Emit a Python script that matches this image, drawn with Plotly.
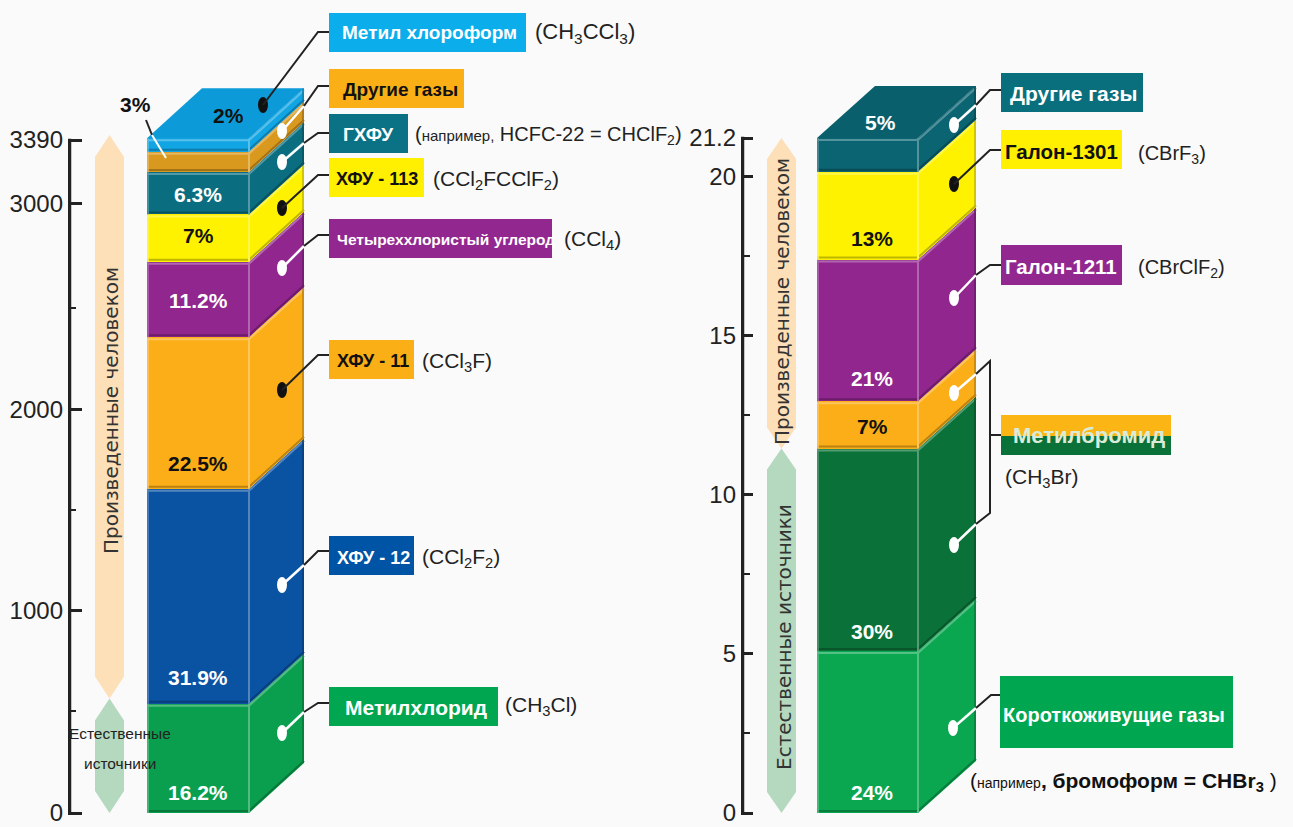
import plotly.graph_objects as go

W, H = 1293, 827
FONT = "Liberation Sans"
INK = "#222222"

# Ozone-depleting gases: share of the total, from the ground up
chlorine_gases = ["Метилхлорид", "ХФУ-12", "ХФУ-11", "Четыреххлористый углерод",
                  "ХФУ-113", "ГХФУ", "Другие газы", "Метил хлороформ"]
chlorine_pct = [16.2, 31.9, 22.5, 11.2, 7, 6.3, 3, 2]
chlorine_front = ["#0A9F4E", "#0A52A2", "#FBAE17", "#90268E", "#FFF200", "#0B6E80", "#D9981E", "#12A5E3"]
chlorine_top = "#0C9BD8"

bromine_gases = ["Короткоживущие газы", "Метилбромид (естественный)", "Метилбромид (человек)",
                 "Галон-1211", "Галон-1301", "Другие газы"]
bromine_pct = [24, 30, 7, 21, 13, 5]
bromine_front = ["#0AA650", "#0A7238", "#FBAE17", "#90268E", "#FFF200", "#0A6472"]
bromine_top = "#0A5F6C"
BROMINE_TOTAL = 21.2

# The printed chlorine scale is not linear near its top, so its ticks sit at their own heights
chlorine_tick_pos = [0, 30, 59.9, 90.4, 99.85]
chlorine_tick_text = ["0", "1000", "2000", "3000", "3390"]
chlorine_minor_pos = [15.1, 45, 75]
bromine_ticks = [0, 5, 10, 15, 20, 21.2]
bromine_tick_text = ["0", "5", "10", "15", "20", "21.2"]
bromine_minor = [2.5, 7.5, 12.5, 17.5]


def px(x):
    return x / W


def py(y):
    return 1 - y / H


def mix(color, other, t):
    a = [int(color[i:i + 2], 16) for i in (1, 3, 5)]
    b = [int(other[i:i + 2], 16) for i in (1, 3, 5)]
    return "#" + "".join(f"{round(p + (q - p) * t):02X}" for p, q in zip(a, b))


fig = go.Figure()


def polygon(xs, ys, color, xa, ya):
    fig.add_trace(go.Scatter(x=xs, y=ys, mode="lines", fill="toself", fillcolor=color,
                             line=dict(width=0), hoverinfo="skip", showlegend=False,
                             xaxis=xa, yaxis=ya))


def stroke(xs, ys, color, width, xa, ya):
    fig.add_trace(go.Scatter(x=xs, y=ys, mode="lines", line=dict(color=color, width=width),
                             hoverinfo="skip", showlegend=False, cliponaxis=False,
                             xaxis=xa, yaxis=ya))


def column(values, colors, top_color, x0, x1, x2, depth, xa, ya):
    """Stacked front bars plus the side and top faces that give the block its depth."""
    pad = depth * 0.04
    base = 0
    for v, c in zip(values, colors):
        top = base + v
        fig.add_trace(go.Bar(x=[(x0 + x1) / 2], y=[v], base=[base], width=[x1 - x0],
                             marker=dict(color=c, line=dict(width=0)), hoverinfo="skip",
                             showlegend=False, xaxis=xa, yaxis=ya))
        polygon([x1, x2, x2, x1, x1], [base, base + depth, top + depth, top, base], c, xa, ya)
        light, dark = mix(c, "#FFFFFF", 0.3), mix(c, "#000000", 0.25)
        stroke([x0, x1, x2], [top - pad, top - pad, top + depth - pad], light, 2, xa, ya)
        stroke([x0, x1, x2], [base + pad, base + pad, base + depth + pad], dark, 2, xa, ya)
        stroke([x1, x1], [base, top], light, 2, xa, ya)
        stroke([x0 + 1, x0 + 1], [base, top], light, 1.5, xa, ya)
        stroke([x2 - 1, x2 - 1], [base + depth, top + depth], dark, 1.5, xa, ya)
        base = top
    dx = x2 - x1
    polygon([x0, x1, x2, x0 + dx, x0], [base, base, base + depth, base + depth, base], top_color, xa, ya)


def band(x0, x1, lo, hi, tip, color, xa, ya):
    """Pale vertical band with pointed ends marking a source range."""
    mid = (x0 + x1) / 2
    polygon([mid, x1, x1, mid, x0, x0, mid],
            [hi, hi - tip, lo + tip, lo, lo + tip, hi - tip, hi], color, xa, ya)


# Chlorine column
CL_UNIT = 6.74
column(chlorine_pct, chlorine_front, chlorine_top, 147, 249, 304, 50 / CL_UNIT, "x", "y")
band(95, 124, chlorine_pct[0] + 0.8, sum(chlorine_pct) + 0.5, 22 / CL_UNIT, "#FDDFB8", "x", "y")
band(95, 124, 0, chlorine_pct[0] + 0.8, 22 / CL_UNIT, "#B4D9BF", "x", "y")
stroke([69.5, 69.5], [-0.2, chlorine_tick_pos[-1] + 0.2], INK, 3.5, "x", "y")

# Bromine column
BR_UNIT = 675 / BROMINE_TOTAL
bromine_ppt = [p * BROMINE_TOTAL / 100 for p in bromine_pct]
column(bromine_ppt, bromine_front, bromine_top, 817, 918, 976, 52 / BR_UNIT, "x2", "y2")
split = sum(bromine_ppt[:2])
band(767, 796, split, BROMINE_TOTAL, 21 / BR_UNIT, "#FDDFB8", "x2", "y2")
band(767, 796, 0, split, 21 / BR_UNIT, "#B4D9BF", "x2", "y2")
stroke([742.5, 742.5], [-0.04, BROMINE_TOTAL + 0.04], INK, 3.5, "x2", "y2")

annotations = []


def text(x, y, s, size=20, color=INK, family=FONT, anchor="left", angle=0):
    annotations.append(dict(x=px(x), y=py(y), xref="paper", yref="paper", text=s, showarrow=False,
                            xanchor=anchor, yanchor="middle", textangle=angle,
                            font=dict(family=family, size=size, color=color)))


shapes = []


def box(x0, y0, x1, y1, color):
    shapes.append(dict(type="rect", xref="paper", yref="paper", x0=px(x0), x1=px(x1),
                       y0=py(y0), y1=py(y1), fillcolor=color, line=dict(width=0)))


def wire(points, color=INK, width=2):
    path = "M " + " L ".join(f"{px(x):.5f},{py(y):.5f}" for x, y in points)
    shapes.append(dict(type="path", xref="paper", yref="paper", path=path,
                       line=dict(color=color, width=width)))


def dot(x, y, color):
    shapes.append(dict(type="circle", xref="paper", yref="paper", x0=px(x - 5), x1=px(x + 5),
                       y0=py(y - 8), y1=py(y + 8), fillcolor=color, line=dict(width=0)))


def callout(dot_xy, bend, elbow, end, light):
    """Leader from a face to its label: white over the block when the dot is white."""
    if light:
        dot(*dot_xy, "#FFFFFF")
        wire([dot_xy, bend], "#FFFFFF", 2.5)
        wire([bend, elbow, end])
    else:
        dot(*dot_xy, "#111111")
        wire([dot_xy, elbow, end])


# Chlorine labels
box(329, 13, 526, 52, "#0BAEEA")
text(340, 33, "<b>Метил хлороформ</b>", 19, "#FFFFFF")
text(533, 33, "(CH<sub>3</sub>CCl<sub>3</sub>)", 22)
box(329, 69, 464, 108, "#FBAF17")
text(341, 89, "<b>Другие газы</b>", 19, "#111111")
box(329, 114, 408, 153, "#0A7284")
text(341, 134, "<b>ГХФУ</b>", 19, "#FFFFFF")
text(413, 136, "(<span style='font-size:15px'>например,</span> HCFC-22 = CHClF<sub>2</sub>)", 20)
box(329, 158, 424, 197, "#FFEF00")
text(334, 179, "<b>ХФУ - 113</b>", 18, "#111111")
text(431, 180, "(CCl<sub>2</sub>FCClF<sub>2</sub>)", 21)
box(329, 219, 552, 258, "#92278F")
text(335, 240, "<b>Четыреххлористый углерод</b>", 15.5, "#FFFFFF")
text(562, 240, "(CCl<sub>4</sub>)", 21)
box(329, 340, 414, 379, "#FBAF17")
text(335, 361, "<b>ХФУ - 11</b>", 18, "#111111")
text(420, 362, "(CCl<sub>3</sub>F)", 21)
box(329, 536, 414, 575, "#0054A6")
text(335, 558, "<b>ХФУ - 12</b>", 18, "#FFFFFF")
text(420, 558, "(CCl<sub>2</sub>F<sub>2</sub>)", 21)
box(329, 687, 498, 726, "#00A650")
text(343, 707, "<b>Метилхлорид</b>", 21, "#FFFFFF")
text(503, 706, "(CH<sub>3</sub>Cl)", 21)

callout((263, 105), None, (318, 32), (329, 32), False)
callout((282, 131), (304, 106), (318, 86), (329, 86), True)
callout((282, 162), (304, 143), (318, 133), (329, 133), True)
callout((282, 208), None, (318, 175), (329, 175), False)
callout((282, 268), (304, 246), (318, 235), (329, 235), True)
callout((282, 390), None, (318, 355), (329, 355), False)
callout((282, 585), (304, 565), (318, 551), (329, 551), True)
callout((282, 733), (304, 712), (318, 703), (329, 703), True)

# Bromine labels
box(1001, 73, 1143, 112, "#0A6F7D")
text(1008, 93, "<b>Другие газы</b>", 21, "#FFFFFF")
box(1001, 130, 1122, 169, "#FFEF00")
text(1003, 151, "<b>Галон-1301</b>", 20.5, "#111111")
text(1136, 155, "(CBrF<sub>3</sub>)", 20)
box(1001, 245, 1122, 285, "#92278F")
text(1003, 266, "<b>Галон-1211</b>", 20.5, "#FFFFFF")
text(1136, 268, "(CBrClF<sub>2</sub>)", 20)
box(1001, 415, 1171, 436, "#FBB616")
box(1001, 436, 1171, 455, "#0A7238")
text(1011, 435, "<b>Метилбромид</b>", 22, "#DCEBD8")
text(1003, 478, "(CH<sub>3</sub>Br)", 21)
box(1000, 676, 1233, 748, "#00A650")
text(1001, 715, "<b>Короткоживущие газы</b>", 20, "#FFFFFF")
text(968, 782, "(<span style='font-size:14px'>например</span><b>, бромоформ = CHBr<sub>3</sub> </b>)", 21, "#111111")

callout((954, 125), (976, 105), (990, 90), (1001, 90), True)
callout((954, 184), None, (990, 150), (1001, 150), False)
callout((954, 298), (976, 275), (990, 265), (1001, 265), True)
dot(954, 393, "#FFFFFF")
wire([(954, 393), (976, 374)], "#FFFFFF", 2.5)
dot(954, 545, "#FFFFFF")
wire([(954, 545), (976, 524)], "#FFFFFF", 2.5)
wire([(976, 374), (990, 361), (990, 513), (976, 524)])
wire([(990, 435), (1001, 435)])
callout((953, 728), (976, 708), (991, 695), (1000, 695), True)

# Percentages printed on the faces: (x, y) chosen per segment
chlorine_label_xy = [(198, 792), (198, 677), (198, 463), (198, 300), (198, 236), (198, 194), (135, 105), (228, 115)]
chlorine_label_col = ["#FFFFFF", "#FFFFFF", "#111111", "#FFFFFF", "#111111", "#FFFFFF", "#111111", "#111111"]
for v, (x, y), c in zip(chlorine_pct, chlorine_label_xy, chlorine_label_col):
    text(x, y, f"<b>{v}%</b>", 21, c, anchor="center")
wire([(146, 120), (152, 135)])
wire([(152, 135), (166, 158)], "#FFFFFF", 2)

bromine_label_xy = [(872, 792), (872, 631), (872, 426), (872, 378), (872, 238), (880, 122)]
bromine_label_col = ["#FFFFFF", "#FFFFFF", "#111111", "#FFFFFF", "#111111", "#FFFFFF"]
for v, (x, y), c in zip(bromine_pct, bromine_label_xy, bromine_label_col):
    text(x, y, f"<b>{v}%</b>", 21, c, anchor="center")

# Source ranges
SANS = "DejaVu Sans"
text(111, 411, "Произведенные человеком", 20, "#333333", SANS, "center", -90)
text(120, 733, "Естественные", 15.5, INK, anchor="center")
text(120, 763, "источники", 15.5, INK, anchor="center")
text(782, 302, "Произведенные человеком", 20, "#333333", SANS, "center", -90)
text(784, 637, "Естественные источники", 20, "#333333", SANS, "center", -90)

tick_font = dict(family=FONT, size=24, color=INK)
hidden_x = dict(visible=False, fixedrange=True)
FLOOR = H - 813  # pixels left under the zero line

fig.update_layout(
    width=W, height=H, margin=dict(l=0, r=0, t=0, b=0),
    paper_bgcolor="#FAFAFA", plot_bgcolor="rgba(0,0,0,0)",
    barmode="overlay", bargap=0, showlegend=False,
    xaxis=dict(domain=[px(68), px(320)], range=[68, 320], **hidden_x),
    xaxis2=dict(domain=[px(741), px(990)], range=[741, 990], **hidden_x),
    yaxis=dict(domain=[0, 1], range=[-FLOOR / CL_UNIT, 813 / CL_UNIT], anchor="x", showgrid=False,
               zeroline=False, showline=False, automargin=False, tickmode="array",
               tickvals=chlorine_tick_pos, ticktext=chlorine_tick_text, ticks="inside",
               ticklen=14, tickwidth=2.5, tickcolor=INK, tickfont=tick_font, ticklabelstandoff=4,
               ticklabeloverflow="allow",
               minor=dict(tickmode="array", tickvals=chlorine_minor_pos, ticks="inside",
                          ticklen=8, tickwidth=2, tickcolor=INK, showgrid=False)),
    yaxis2=dict(domain=[0, 1], range=[-FLOOR / BR_UNIT, 813 / BR_UNIT], anchor="x2", showgrid=False,
                zeroline=False, showline=False, automargin=False, tickmode="array",
                tickvals=bromine_ticks, ticktext=bromine_tick_text, ticks="inside",
                ticklen=12, tickwidth=2.5, tickcolor=INK, tickfont=tick_font, ticklabelstandoff=4,
                ticklabeloverflow="allow",
                minor=dict(tickmode="array", tickvals=bromine_minor, ticks="inside",
                           ticklen=9, tickwidth=2, tickcolor=INK, showgrid=False)),
    shapes=shapes, annotations=annotations,
)

fig.write_html("out.html", config={"displayModeBar": False})
